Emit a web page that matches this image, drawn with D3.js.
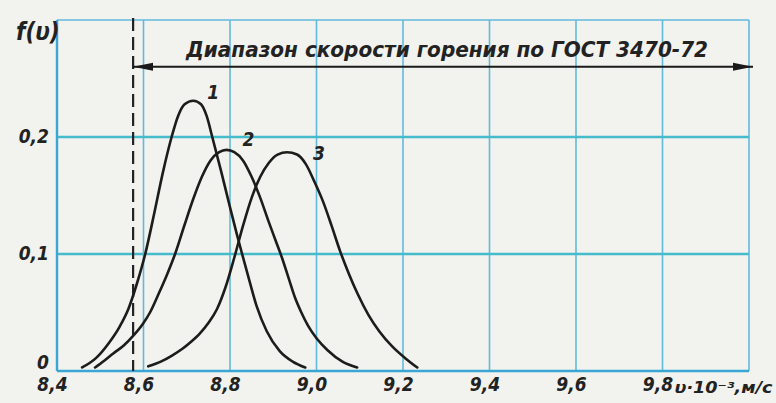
<!DOCTYPE html>
<html><head><meta charset="utf-8">
<script src="https://cdn.jsdelivr.net/npm/d3@7"></script>
<style>
html,body{margin:0;padding:0;background:#f2f2ee;}
svg{display:block;}
text{font-family:"DejaVu Sans Condensed","DejaVu Sans",sans-serif;font-style:italic;font-weight:bold;fill:#222;}
</style></head>
<body>
<svg id="c" width="776" height="403"></svg>
<script>
// ---- data ----
const xTicks = [8.4, 8.6, 8.8, 9.0, 9.2, 9.4, 9.6, 9.8];
const xTickLabels = ["8,4", "8,6", "8,8", "9,0", "9,2", "9,4", "9,6", "9,8"];
const yTicks = [0, 0.1, 0.2];
const yTickLabels = ["0", "0,1", "0,2"];
const seriesNames = ["1", "2", "3"];
const curve1V = [8.458, 8.49, 8.52, 8.545, 8.565, 8.585, 8.604, 8.625, 8.645, 8.665, 8.680, 8.695, 8.715, 8.733, 8.746, 8.759, 8.78, 8.80, 8.815, 8.828, 8.845, 8.862, 8.885, 8.915, 8.945, 8.974];
const curve1F = [0.003, 0.011, 0.024, 0.038, 0.053, 0.075, 0.100, 0.135, 0.170, 0.200, 0.218, 0.228, 0.231, 0.228, 0.218, 0.200, 0.170, 0.140, 0.118, 0.100, 0.077, 0.055, 0.034, 0.017, 0.008, 0.003];
const curve2V = [8.488, 8.51, 8.53, 8.555, 8.576, 8.598, 8.615, 8.635, 8.655, 8.673, 8.695, 8.715, 8.735, 8.755, 8.775, 8.792, 8.81, 8.83, 8.85, 8.87, 8.89, 8.905, 8.92, 8.935, 8.95, 8.965, 8.98, 9.0, 9.025, 9.06, 9.094];
const curve2F = [0.003, 0.009, 0.015, 0.022, 0.030, 0.040, 0.050, 0.066, 0.083, 0.100, 0.125, 0.147, 0.166, 0.180, 0.187, 0.189, 0.187, 0.180, 0.166, 0.148, 0.127, 0.112, 0.097, 0.080, 0.063, 0.050, 0.039, 0.028, 0.018, 0.008, 0.003];
const curve3V = [8.611, 8.64, 8.665, 8.69, 8.71, 8.73, 8.75, 8.77, 8.79, 8.81, 8.83, 8.85, 8.87, 8.89, 8.91, 8.932, 8.955, 8.975, 8.995, 9.015, 9.035, 9.055, 9.075, 9.095, 9.12, 9.145, 9.175, 9.205, 9.233];
const curve3F = [0.004, 0.008, 0.013, 0.019, 0.025, 0.032, 0.041, 0.053, 0.072, 0.097, 0.124, 0.148, 0.166, 0.178, 0.185, 0.187, 0.185, 0.177, 0.162, 0.145, 0.124, 0.102, 0.083, 0.066, 0.048, 0.034, 0.021, 0.011, 0.003];
const rangeStart = 8.576;   // ГОСТ range lower bound (dashed line)
const titleText = "Диапазон скорости горения по ГОСТ 3470-72";
const yAxisTitle = "f(υ)";
const xAxisTitle = "υ·10⁻³,м/с";

// ---- layout ----
const svg = d3.select("#c");
const x = d3.scaleLinear().domain([8.4, 10.0]).range([57, 749]);
const y = d3.scaleLinear().domain([0, 0.3]).range([371, 20]);

const gridBlue = "#62b9de";
const gridCyan = "#45bccb";

const g = svg.append("g");
// vertical grid lines
g.selectAll("line.vg").data(xTicks.slice(1).concat([10.0])).join("line")
  .attr("x1", d => x(d)).attr("x2", d => x(d))
  .attr("y1", y(0.3)).attr("y2", y(0))
  .attr("stroke", gridBlue).attr("stroke-width", 1.6);
// horizontal grid lines
g.selectAll("line.hg").data([0.1, 0.2]).join("line")
  .attr("x1", x(8.4)).attr("x2", x(10.0))
  .attr("y1", d => y(d)).attr("y2", d => y(d))
  .attr("stroke", gridCyan).attr("stroke-width", 2.4);
// frame
g.append("line").attr("x1", x(8.4)).attr("x2", x(10.0)).attr("y1", y(0.3)).attr("y2", y(0.3))
  .attr("stroke", gridBlue).attr("stroke-width", 1.6);
g.append("line").attr("x1", x(8.4)).attr("x2", x(8.4)).attr("y1", y(0.3)).attr("y2", y(0))
  .attr("stroke", "#3aa6d6").attr("stroke-width", 2.4);
g.append("line").attr("x1", x(8.4)).attr("x2", x(10.0)).attr("y1", y(0)).attr("y2", y(0))
  .attr("stroke", "#3aa6d6").attr("stroke-width", 2.6);

// axes (labels only)
const xAxis = d3.axisBottom(x).tickValues(xTicks).tickSize(0).tickPadding(0)
  .tickFormat((d, i) => xTickLabels[i]);
const gx = svg.append("g").attr("transform", `translate(-5,${y(0) + 6})`).call(xAxis);
gx.select(".domain").remove();
gx.selectAll("text").attr("font-size", 19).attr("dy", "0.75em")
  .style("font-family", "'DejaVu Sans Condensed',sans-serif").style("font-weight", "bold")
  .attr("fill", "#222");

const yAxis = d3.axisLeft(y).tickValues(yTicks).tickSize(0).tickPadding(8)
  .tickFormat((d, i) => yTickLabels[i]);
const gy = svg.append("g").attr("transform", `translate(${x(8.4)},0)`).call(yAxis);
gy.select(".domain").remove();
gy.selectAll("text").attr("font-size", 19)
  .style("font-family", "'DejaVu Sans Condensed',sans-serif").style("font-weight", "bold")
  .attr("fill", "#222")
  .attr("dy", (d) => d === 0 ? "-0.15em" : "0.3em");

// axis titles
svg.append("text").attr("x", 16).attr("y", 40).attr("font-size", 24).text(yAxisTitle);
svg.append("text").attr("x", x(9.8) + 12).attr("y", y(0) + 22).attr("font-size", 16)
  .attr("textLength", 98).attr("lengthAdjust", "spacingAndGlyphs").text(xAxisTitle);

// dashed line
svg.append("line").attr("x1", x(rangeStart)).attr("x2", x(rangeStart))
  .attr("y1", y(0.3) - 2).attr("y2", y(0))
  .attr("stroke", "#222").attr("stroke-width", 2.2).attr("stroke-dasharray", "13,6");

// range arrow
const defs = svg.append("defs");
defs.append("marker").attr("id", "ah").attr("viewBox", "0 0 20 10").attr("refX", 20).attr("refY", 5)
  .attr("markerWidth", 20).attr("markerHeight", 10).attr("markerUnits", "userSpaceOnUse")
  .attr("orient", "auto-start-reverse")
  .append("path").attr("d", "M0,1 L20,5 L0,9 Z").attr("fill", "#1a1a1a");
const arrowY = y(0.26);
svg.append("line").attr("x1", x(rangeStart)).attr("x2", x(10.0) + 4)
  .attr("y1", arrowY).attr("y2", arrowY)
  .attr("stroke", "#1a1a1a").attr("stroke-width", 2)
  .attr("marker-start", "url(#ah)").attr("marker-end", "url(#ah)");
svg.append("text").attr("x", 186).attr("y", arrowY - 10).attr("font-size", 21)
  .attr("textLength", 522).attr("lengthAdjust", "spacingAndGlyphs").text(titleText);

// curves
const series = [
  {name: seriesNames[0], v: curve1V, f: curve1F},
  {name: seriesNames[1], v: curve2V, f: curve2F},
  {name: seriesNames[2], v: curve3V, f: curve3F}
];
const line = d3.line().x(d => x(d[0])).y(d => y(d[1])).curve(d3.curveMonotoneX);
svg.selectAll("path.curve").data(series).join("path")
  .attr("class", "curve")
  .attr("d", s => line(s.v.map((v, i) => [v, s.f[i]])))
  .attr("fill", "none").attr("stroke", "#1c1c1c").attr("stroke-width", 2.6)
  .attr("stroke-linecap", "round");

// curve labels near the peak, upper right
series.forEach((s, k) => {
  const im = d3.maxIndex(s.f);
  const offs = [[14, -2], [16, -4], [26, 8]][k];
  svg.append("text")
    .attr("x", x(s.v[im]) + offs[0]).attr("y", y(s.f[im]) + offs[1])
    .attr("font-size", 19).text(s.name);
});
</script>
</body></html>
